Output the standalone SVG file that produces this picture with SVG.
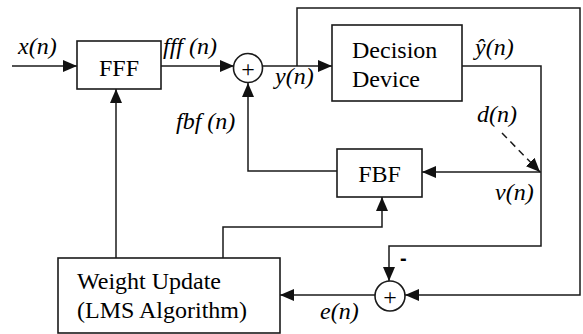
<svg xmlns="http://www.w3.org/2000/svg" width="583" height="334" viewBox="0 0 583 334">
<defs>
<marker id="ah" markerUnits="userSpaceOnUse" markerWidth="14" markerHeight="12" refX="14" refY="6" orient="auto">
<path d="M0,0 L14,6 L0,12 Z" fill="#111"/>
</marker>
</defs>
<rect width="583" height="334" fill="#fff"/>
<g id="connectors" fill="none" stroke="#1a1a1a" stroke-width="1.5">
<path d="M12,66 H77" marker-end="url(#ah)"/>
<path d="M161,66 H234" marker-end="url(#ah)"/>
<path d="M263,66 H332" marker-end="url(#ah)"/>
<path d="M297,66 V8 H580 V295 H405" marker-end="url(#ah)"/>
<path d="M462,66 H541 V246 H389 V281" marker-end="url(#ah)"/>
<path d="M541,172 H422" marker-end="url(#ah)"/>
<path d="M337,171 H248 V83" marker-end="url(#ah)"/>
<path d="M502,133 L540,172" stroke-dasharray="7,5" marker-end="url(#ah)"/>
<path d="M116,258 V89" marker-end="url(#ah)"/>
<path d="M223,258 V227 H382 V197" marker-end="url(#ah)"/>
<path d="M375,295 H280" marker-end="url(#ah)"/>
</g>
<g id="labels">
<text x="18" y="54" font-family="Liberation Serif" font-size="24" font-style="italic">x(n)</text>
<text x="163" y="54" font-family="Liberation Serif" font-size="24" font-style="italic">fff (n)</text>
<text x="176" y="129" font-family="Liberation Serif" font-size="24" font-style="italic">fbf (n)</text>
<text x="275" y="84" font-family="Liberation Serif" font-size="24" font-style="italic">y(n)</text>
<text x="475" y="55" font-family="Liberation Serif" font-size="24" font-style="italic">&#375;(n)</text>
<text x="477" y="122" font-family="Liberation Serif" font-size="24" font-style="italic">d(n)</text>
<text x="495" y="200" font-family="Liberation Serif" font-size="24" font-style="italic">v(n)</text>
<text x="320" y="319" font-family="Liberation Serif" font-size="24" font-style="italic">e(n)</text>
<text x="400" y="265" font-family="Liberation Sans" font-weight="bold" font-size="20">-</text>
</g>
<g id="fff">
<rect x="77" y="41" width="84" height="48" fill="#fff" stroke="#1a1a1a" stroke-width="1.6"/>
<text x="119" y="76" text-anchor="middle" font-family="Liberation Serif" font-size="24">FFF</text>
</g>
<g id="sum1">
<circle cx="248" cy="68" r="14.5" fill="#fff" stroke="#1a1a1a" stroke-width="1.6"/>
<text x="248" y="77" text-anchor="middle" font-family="Liberation Serif" font-size="24">+</text>
</g>
<g id="decision">
<rect x="332" y="25" width="130" height="76" fill="#fff" stroke="#1a1a1a" stroke-width="1.6"/>
<text x="352" y="58" font-family="Liberation Serif" font-size="24">Decision</text>
<text x="352" y="87" font-family="Liberation Serif" font-size="24">Device</text>
</g>
<g id="fbf">
<rect x="337" y="149" width="85" height="48" fill="#fff" stroke="#1a1a1a" stroke-width="1.6"/>
<text x="379.5" y="182" text-anchor="middle" font-family="Liberation Serif" font-size="24">FBF</text>
</g>
<g id="sum2">
<circle cx="390" cy="296" r="15" fill="#fff" stroke="#1a1a1a" stroke-width="1.6"/>
<text x="390" y="305" text-anchor="middle" font-family="Liberation Serif" font-size="24">+</text>
</g>
<g id="weight">
<rect x="58" y="258" width="222" height="75" fill="#fff" stroke="#1a1a1a" stroke-width="1.6"/>
<text x="77" y="289" font-family="Liberation Serif" font-size="24">Weight Update</text>
<text x="77" y="318" font-family="Liberation Serif" font-size="24">(LMS Algorithm)</text>
</g>
</svg>
